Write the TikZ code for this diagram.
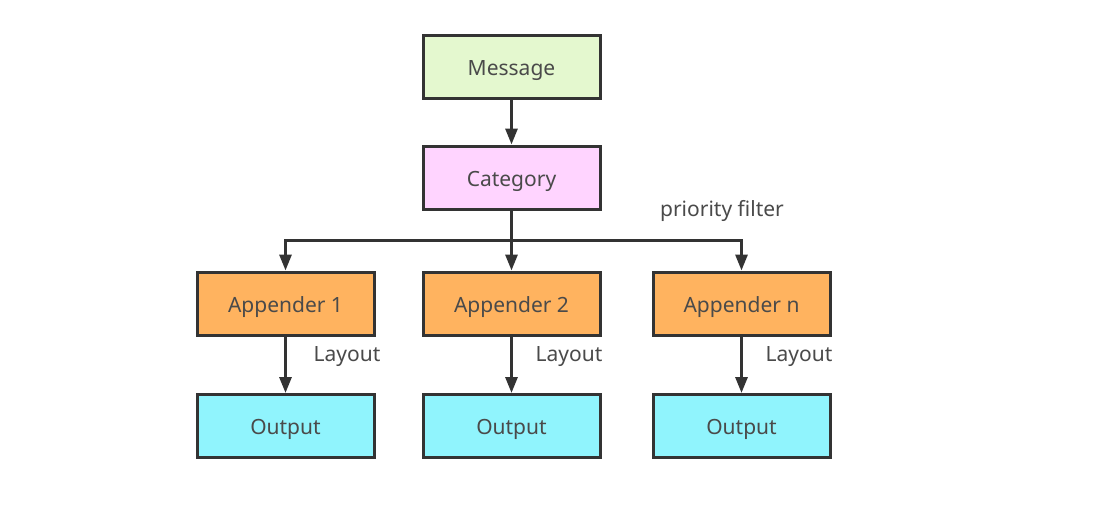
\documentclass[tikz,border=0pt]{standalone}
\usepackage{fontspec}
\setmainfont{Noto Sans}
\usetikzlibrary{arrows.meta}
\definecolor{msgfill}{HTML}{E4F8CF}
\definecolor{catfill}{HTML}{FFD4FF}
\definecolor{appfill}{HTML}{FFB35F}
\definecolor{outfill}{HTML}{90F4FD}
\definecolor{edge}{HTML}{333333}
\definecolor{txt}{HTML}{4A4A4A}
\tikzset{
  box/.style={draw=edge, line width=3pt, minimum width=177pt, minimum height=63pt,
    inner sep=0pt, text=txt, font=\fontsize{21}{24}\selectfont,
    text height=19pt, text depth=2pt},
  conn/.style={draw=edge, line width=3pt, -{Triangle[width=12pt,length=16pt]}},
  lbl/.style={text=txt, font=\fontsize{21}{24}\selectfont, inner sep=0pt,
    text height=19pt, text depth=2pt}
}
\begin{document}
\begin{tikzpicture}[x=1pt,y=-1pt]
\useasboundingbox[fill=white] (0,0) rectangle (1095,512);
\node[box, fill=msgfill] (msg) at (511.5,67) {Message};
\node[box, fill=catfill] (cat) at (511.5,177.5) {Category};
\node[box, fill=appfill] (a1) at (285.5,303.5) {Appender 1};
\node[box, fill=appfill] (a2) at (511.5,303.5) {Appender 2};
\node[box, fill=appfill] (an) at (741.5,303.5) {Appender n};
\node[box, fill=outfill] (o1) at (285.5,426) {Output};
\node[box, fill=outfill] (o2) at (511.5,426) {Output};
\node[box, fill=outfill] (on) at (741.5,426) {Output};
\coordinate (split) at (511.5,240);
\draw[conn] (msg) -- (cat);
\draw[conn] (cat) -- (a2);
\draw[conn] (split) -| (a1);
\draw[conn] (split) -| (an);
\draw[conn] (a1) -- (o1);
\draw[conn] (a2) -- (o2);
\draw[conn] (an) -- (on);
\node[lbl] (pf) at (722,208) {priority filter};
\node[lbl] (l1) at (347,353) {Layout};
\node[lbl] (l2) at (569,353) {Layout};
\node[lbl] (ln) at (799,353) {Layout};
\end{tikzpicture}
\end{document}
